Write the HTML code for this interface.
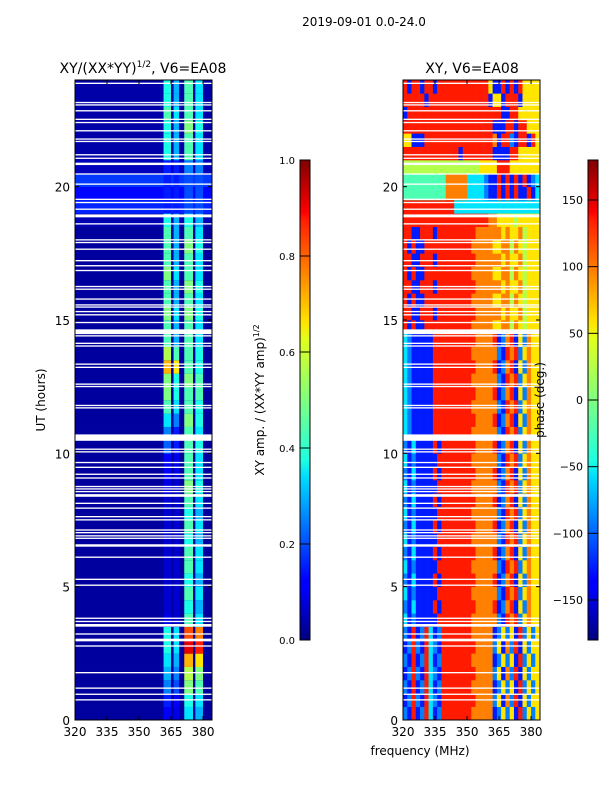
<!DOCTYPE html>
<html><head><meta charset="utf-8">
<style>
body{margin:0;background:#fff;}
svg{display:block;font-family:"DejaVu Sans","Liberation Sans",sans-serif;}
</style></head>
<body>
<svg id="fig" width="600" height="800" viewBox="0 0 600 800" xmlns="http://www.w3.org/2000/svg">
<defs>
<linearGradient id="jet" x1="0" y1="1" x2="0" y2="0">
<stop offset="0" stop-color="#00007f"/><stop offset="0.11" stop-color="#0000ff"/>
<stop offset="0.125" stop-color="#0000ff"/><stop offset="0.34" stop-color="#00dcff"/>
<stop offset="0.375" stop-color="#1fffe0"/><stop offset="0.5" stop-color="#7fff7f"/>
<stop offset="0.625" stop-color="#e0ff1f"/><stop offset="0.66" stop-color="#ffe500"/>
<stop offset="0.875" stop-color="#ff1e00"/><stop offset="0.89" stop-color="#f00"/>
<stop offset="1" stop-color="#7f0000"/>
</linearGradient>
</defs>
<text x="364" y="26" font-size="12" text-anchor="middle">2019-09-01 0.0-24.0</text>
<text x="143" y="73" font-size="14" text-anchor="middle">XY/(XX*YY)<tspan font-size="9" dy="-6">1/2</tspan><tspan dy="6">, V6=EA08</tspan></text>
<text x="472" y="73" font-size="14" text-anchor="middle">XY, V6=EA08</text>
<g id="amp"></g>
<g id="ph"></g>
<g id="axes"></g>
<text transform="translate(45,400) rotate(-90)" font-size="12" text-anchor="middle">UT (hours)</text>
<text x="420" y="755" font-size="12" text-anchor="middle">frequency (MHz)</text>
<rect x="300" y="160" width="10" height="480" fill="url(#jet)" stroke="#000" stroke-width="1"/>
<rect x="588" y="160" width="10" height="480" fill="url(#jet)" stroke="#000" stroke-width="1"/>
<text transform="translate(264,400) rotate(-90)" font-size="12" text-anchor="middle">XY amp. / (XX*YY amp)<tspan font-size="8" dy="-5">1/2</tspan></text>
<text transform="translate(544,400) rotate(-90)" font-size="12" text-anchor="middle">phase (deg.)</text>
<g id="cbt"></g>
</svg>
<script>
// ---- data ----
const fMin = 320, fMax = 384.2, tMin = 0, tMax = 24;
const xTicks = [320, 335, 350, 365, 380];
const yTicks = [0, 5, 10, 15, 20];
const ampTicks = [0.0, 0.2, 0.4, 0.6, 0.8, 1.0];
const phaseTicks = [-150, -100, -50, 0, 50, 100, 150];
// flagged (white) time intervals in hours
const flags = [[23.85,23.9],[23.13,23.18],[23.04,23.09],[22.82,22.87],[22.5,22.55],[22.38,22.43],[22.07,22.12],[21.76,21.81],[21.67,21.72],[21.17,21.22],[21.04,21.09],[20.81,20.9],[20.45,20.5],[20.07,20.12],[19.5,19.55],[19.38,19.43],[19.13,19.18],[18.85,18.96],[18.58,18.63],[17.98,18.03],[17.88,17.93],[17.63,17.68],[17.2,17.25],[17.01,17.06],[16.83,16.88],[16.23,16.28],[16.13,16.18],[15.76,15.81],[15.54,15.59],[15.46,15.51],[15.29,15.34],[15.17,15.22],[14.88,14.93],[14.47,14.65],[14.38,14.43],[14.1,14.15],[14.0,14.05],[13.32,13.37],[13.2,13.25],[12.57,12.62],[12.48,12.53],[11.77,11.82],[11.68,11.73],[10.47,10.71],[10.13,10.18],[10.03,10.08],[9.63,9.68],[9.45,9.5],[9.19,9.24],[9.05,9.1],[8.73,8.78],[8.64,8.69],[8.54,8.59],[8.37,8.47],[8.1,8.15],[7.92,7.97],[7.6,7.65],[7.48,7.53],[7.1,7.15],[7.0,7.05],[6.88,6.93],[6.79,6.84],[6.5,6.59],[6.08,6.13],[5.25,5.3],[5.03,5.08],[3.79,3.84],[3.67,3.72],[3.5,3.6],[3.2,3.25],[3.0,3.05],[2.95,3.0],[2.75,2.8],[1.75,1.8],[1.17,1.22],[0.94,0.99],[0.73,0.78]];
// amplitude: frequency ranges of bright stripes (MHz)
const stripeLo = [361.5, 366.2, 371.2, 376.4];
const stripeHi = [365.0, 368.8, 375.3, 380.0];
// stripe amplitudes per half-hour row (48 rows, 0..24 h)
const stripeA = [0.12,0.15,0.25,0.3,0.35,0.4,0.4,0.1,0.08,0.08,0.08,0.08,0.08,0.08,0.08,0.08,0.08,0.1,0.12,0.12,0.22,0.25,0.35,0.45,0.5,0.5,0.7,0.55,0.45,0.45,0.5,0.45,0.45,0.5,0.45,0.45,0.45,0.4,0.15,0.15,0.15,0.15,0.4,0.4,0.4,0.45,0.4,0.4];
const stripeB = [0.1,0.12,0.2,0.25,0.3,0.35,0.35,0.08,0.08,0.08,0.08,0.08,0.08,0.08,0.08,0.08,0.08,0.08,0.1,0.1,0.15,0.15,0.25,0.35,0.4,0.4,0.65,0.45,0.3,0.3,0.35,0.3,0.3,0.35,0.3,0.3,0.3,0.3,0.15,0.15,0.15,0.15,0.3,0.3,0.3,0.35,0.3,0.3];
const stripeC = [0.35,0.4,0.5,0.55,0.7,0.9,0.8,0.45,0.4,0.45,0.4,0.45,0.45,0.4,0.45,0.4,0.45,0.5,0.45,0.45,0.45,0.45,0.5,0.45,0.45,0.5,0.45,0.45,0.45,0.45,0.5,0.45,0.5,0.45,0.45,0.5,0.45,0.4,0.2,0.2,0.2,0.25,0.45,0.45,0.5,0.45,0.45,0.45];
const stripeD = [0.3,0.35,0.45,0.5,0.65,0.85,0.75,0.35,0.3,0.35,0.3,0.35,0.35,0.3,0.35,0.3,0.35,0.4,0.35,0.35,0.4,0.35,0.4,0.4,0.45,0.45,0.4,0.4,0.35,0.35,0.4,0.35,0.4,0.35,0.35,0.4,0.35,0.3,0.2,0.2,0.2,0.25,0.35,0.35,0.4,0.35,0.35,0.35];
const ampBackground = [0.03,0.03,0.03,0.03,0.03,0.03,0.03,0.03,0.03,0.03,0.03,0.03,0.03,0.03,0.03,0.03,0.03,0.03,0.03,0.03,0.03,0.03,0.03,0.03,0.03,0.03,0.03,0.03,0.03,0.03,0.03,0.03,0.03,0.03,0.03,0.03,0.03,0.05,0.16,0.13,0.18,0.06,0.04,0.04,0.04,0.04,0.04,0.04];
// phase: 48 rows x 32 cols (2 MHz bins), digit d -> -162+36*d degrees
const phaseRows = [
"218128312"+"888888877777"+"1262618262"+"6",
"128218321"+"888888887777"+"2617281626"+"6",
"218128312"+"888888877777"+"1262618262"+"6",
"128218321"+"888888887777"+"2617281626"+"6",
"218128312"+"888888877777"+"1262618262"+"6",
"128218321"+"888888887777"+"2617281626"+"6",
"218128312"+"888888877777"+"1262618262"+"6",
"312111118"+"888888877777"+"7218782676"+"6",
"213111181"+"888888887777"+"8127816276"+"6",
"312111118"+"888888877777"+"7218782676"+"6",
"213111181"+"888888887777"+"8127816276"+"6",
"312111118"+"888888877777"+"7218782676"+"6",
"213111181"+"888888887777"+"8127816276"+"6",
"312111118"+"888888877777"+"7218782676"+"6",
"213111181"+"888888887777"+"8127816276"+"6",
"312111118"+"888888877777"+"7218782676"+"6",
"213111181"+"888888887777"+"8127816276"+"6",
"312111118"+"888888877777"+"7218782676"+"6",
"213111181"+"888888887777"+"8127816276"+"6",
"312111118"+"888888877777"+"7218782676"+"6",
"213111181"+"888888887777"+"8127816276"+"6",
"321111188"+"888888877777"+"7218782676"+"6",
"321111188"+"888888887777"+"8127816276"+"6",
"321111188"+"888888877777"+"7218782676"+"6",
"321111188"+"888888887777"+"8127816276"+"6",
"321111188"+"888888877777"+"7218782676"+"6",
"321111188"+"888888887777"+"8127816276"+"6",
"321111188"+"888888877777"+"7218782676"+"6",
"321111188"+"888888887777"+"8127816276"+"6",
"818118888"+"888888877777"+"6677576566"+"6",
"881188818"+"888888887777"+"7767667566"+"6",
"818118888"+"888888877777"+"6677576566"+"6",
"881188818"+"888888887777"+"7767667566"+"6",
"818118888"+"888888877777"+"6677576566"+"6",
"881188818"+"888888887777"+"7767667566"+"6",
"818118888"+"888888877777"+"6677576566"+"6",
"881188818"+"888888887777"+"7767667566"+"6",
"888888888"+"888888888887"+"7666656666"+"6",
"888888888"+"888333333333"+"3333333333"+"3",
"444444444"+"477777333321"+"1818181181"+"3",
"444444444"+"477777333321"+"1818181812"+"3",
"555555555"+"555555555666"+"6888666666"+"6",
"888888888"+"888818888888"+"1111886666"+"6",
"661118888"+"888888888888"+"7188218818"+"6",
"888888888"+"888888888888"+"1118818866"+"6",
"188888888"+"888888888888"+"8811886666"+"6",
"888881888"+"888888888881"+"6618881666"+"6",
"818818818"+"888888888886"+"1181818666"+"6"];

// ---- geometry ----
const P1 = {x0:75, x1:212, y0:80, y1:720};
const P2 = {x0:403, x1:540, y0:80, y1:720};
const NS = 'http://www.w3.org/2000/svg';
function xs(P, f){ return P.x0 + (f - fMin) / (fMax - fMin) * (P.x1 - P.x0); }
function ys(P, t){ return P.y1 - (t - tMin) / (tMax - tMin) * (P.y1 - P.y0); }
function jet(v){
  v = Math.max(0, Math.min(1, v));
  const c = a => Math.round(255 * Math.max(0, Math.min(1, a)));
  return 'rgb(' + c(1.5 - Math.abs(4*v - 3)) + ',' + c(1.5 - Math.abs(4*v - 2)) + ',' + c(1.5 - Math.abs(4*v - 1)) + ')';
}
function mk(tag, attrs, parent){
  const e = document.createElementNS(NS, tag);
  for (const k in attrs) e.setAttribute(k, attrs[k]);
  parent.appendChild(e); return e;
}
const nRows = 48, rowH = (tMax - tMin) / nRows;

// amplitude heatmap
const gA = document.getElementById('amp');
for (let r = 0; r < nRows; r++){
  const t0 = r * rowH, t1 = t0 + rowH;
  const bg = mk('rect', {x: P1.x0, y: ys(P1, t1), width: P1.x1 - P1.x0, height: ys(P1, t0) - ys(P1, t1) + 0.3, fill: jet(ampBackground[r])}, gA);
  
  
  const vals = [stripeA[r], stripeB[r], stripeC[r], stripeD[r]];
  for (let s = 0; s < 4; s++){
    const cell = mk('rect', {x: xs(P1, stripeLo[s]), y: ys(P1, t1), width: xs(P1, stripeHi[s]) - xs(P1, stripeLo[s]), height: ys(P1, t0) - ys(P1, t1) + 0.3, fill: jet(vals[s])}, gA);
    
    
  }
}
// phase heatmap
const gP = document.getElementById('ph');
const nCols = 32, colW = 2;
for (let r = 0; r < nRows; r++){
  const t0 = r * rowH, t1 = t0 + rowH;
  const s = phaseRows[r];
  for (let c = 0; c < nCols; c++){
    const d = parseInt(s[Math.min(c, s.length - 1)]);
    const deg = -162 + 36 * d;
    const f0 = fMin + c * colW, f1 = Math.min(fMax, f0 + colW);
    const cell = mk('rect', {x: xs(P2, f0), y: ys(P2, t1), width: xs(P2, f1) - xs(P2, f0) + 0.3, height: ys(P2, t0) - ys(P2, t1) + 0.3, fill: jet((deg + 180) / 360)}, gP);
    
    
  }
}
// flags
[P1, P2].forEach(P => {
  flags.forEach(fl => {
    const y0 = ys(P, fl[1]), y1 = ys(P, fl[0]);
    const e = mk('rect', {x: P.x0, y: y0, width: P.x1 - P.x0, height: Math.max(1.2, y1 - y0), fill: '#fff'}, P === P1 ? gA : gP);
    
    
  });
});
// axes
const gX = document.getElementById('axes');
[P1, P2].forEach(P => {
  const fr = mk('rect', {x: P.x0, y: P.y0, width: P.x1 - P.x0, height: P.y1 - P.y0, fill: 'none', stroke: '#000', 'stroke-width': 1}, gX);
  
  
  xTicks.forEach(v => {
    const x = xs(P, v);
    mk('line', {x1: x, x2: x, y1: P.y1, y2: P.y1 - 4, stroke: '#000'}, gX);
    mk('line', {x1: x, x2: x, y1: P.y0, y2: P.y0 + 4, stroke: '#000'}, gX);
    const tl = mk('text', {x: x, y: P.y1 + 16, 'font-size': 12, 'text-anchor': 'middle'}, gX);
    tl.textContent = v;
    
    
  });
  yTicks.forEach(v => {
    const y = ys(P, v);
    mk('line', {x1: P.x0, x2: P.x0 + 4, y1: y, y2: y, stroke: '#000'}, gX);
    mk('line', {x1: P.x1, x2: P.x1 - 4, y1: y, y2: y, stroke: '#000'}, gX);
    const tl = mk('text', {x: P.x0 - 5, y: y + 5, 'font-size': 12, 'text-anchor': 'end'}, gX);
    tl.textContent = v;
    
    
  });
});
// colorbar ticks
const gC = document.getElementById('cbt');
ampTicks.forEach(v => {
  const y = 640 - v * 480;
  mk('line', {x1: 300, x2: 310, y1: y, y2: y, stroke: '#000'}, gC);
  const tl = mk('text', {x: 295, y: y + 4, 'font-size': 10, 'text-anchor': 'end'}, gC);
  tl.textContent = v.toFixed(1);
  
  
});
phaseTicks.forEach(v => {
  const y = 640 - (v + 180) / 360 * 480;
  mk('line', {x1: 588, x2: 598, y1: y, y2: y, stroke: '#000'}, gC);
  const tl = mk('text', {x: 583, y: y + 4, 'font-size': 11, 'text-anchor': 'end'}, gC);
  tl.textContent = v < 0 ? '\u2212' + Math.abs(v) : String(v);
  
  
});
</script>
</body></html>
